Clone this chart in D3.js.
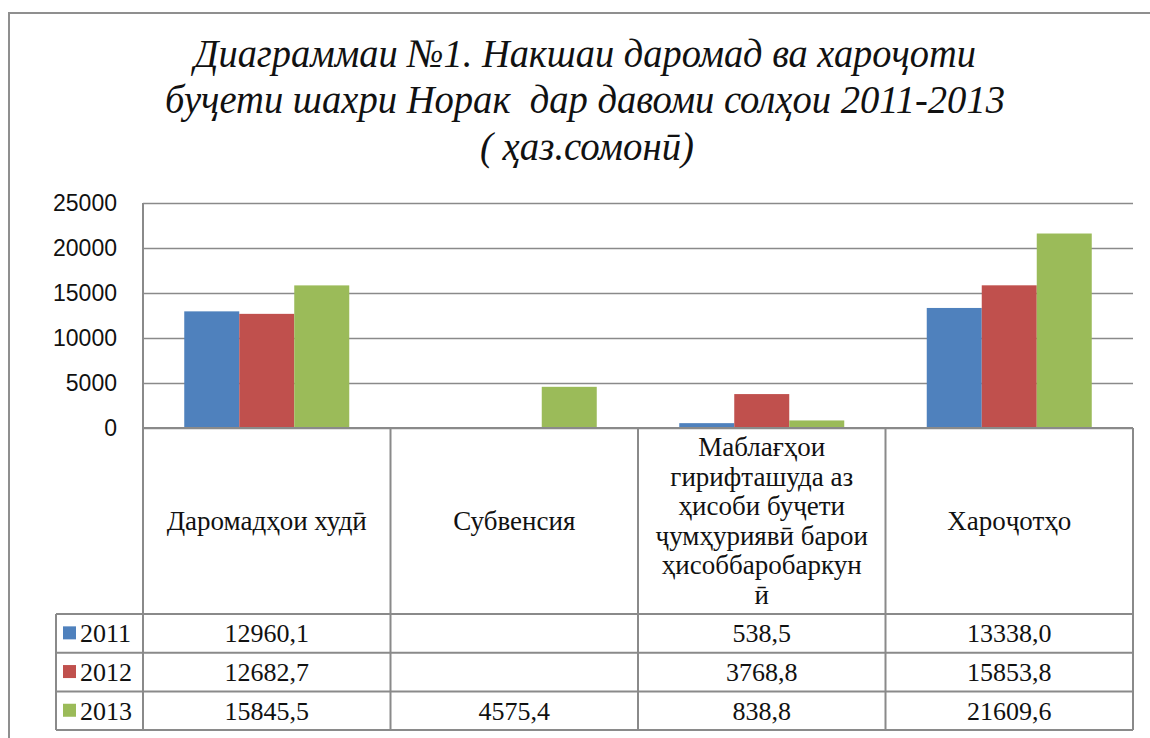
<!DOCTYPE html>
<html><head><meta charset="utf-8">
<script src="https://cdn.jsdelivr.net/npm/d3@7"></script>
<style>
html,body{margin:0;padding:0;background:#fff;}
svg{display:block;}
.serif{font-family:"Liberation Serif","DejaVu Serif","Noto Serif","Times New Roman",Times,serif;}
.sans{font-family:"Liberation Sans",Arial,sans-serif;}
</style></head>
<body>
<svg id="chart" width="1150" height="738"></svg>
<script>
// ---- data ----
const categories = ["Даромадҳои худӣ", "Субвенсия", "Маблағҳои гирифташуда аз ҳисоби буҷети ҷумҳуриявӣ барои ҳисоббаробаркунӣ", "Хароҷотҳо"];
const categoryLines = [
  ["Даромадҳои худӣ"],
  ["Субвенсия"],
  ["Маблағҳои", "гирифташуда аз", "ҳисоби буҷети", "ҷумҳуриявӣ барои", "ҳисоббаробаркун", "ӣ"],
  ["Хароҷотҳо"]
];
const years = ["2011", "2012", "2013"];
const values2011 = [12960.1, null, 538.5, 13338.0];
const values2012 = [12682.7, null, 3768.8, 15853.8];
const values2013 = [15845.5, 4575.4, 838.8, 21609.6];
const seriesColors = ["#4F81BD", "#C0504D", "#9BBB59"];
const yTicks = [0, 5000, 10000, 15000, 20000, 25000];
const titleLines = ["Диаграммаи №1. Накшаи даромад ва хароҷоти", "буҷети шахри Норак  дар давоми солҳои 2011-2013", "( ҳаз.сомонӣ)"];

const series = [values2011, values2012, values2013];

const svg = d3.select("#chart");
const gridColor = "#8a8a8a";

// outer frame (top and left edges)
svg.append("path").attr("d", "M9,738 V13 H1150").attr("fill", "none")
  .attr("stroke", "#8f8f8f").attr("stroke-width", 2);

// title
const titleG = svg.append("g").attr("class", "serif")
  .attr("font-style", "italic").attr("font-size", 41).attr("fill", "#111");
const tl = [{t: titleLines[0], x: 585, y: 67, w: 782}, {t: titleLines[1], x: 585, y: 113, w: 840},
            {t: titleLines[2], x: 587, y: 160, w: 214}];
tl.forEach(d => {
  titleG.append("text").attr("x", d.x).attr("y", d.y).attr("text-anchor", "middle")
    .attr("textLength", d.w).attr("lengthAdjust", "spacingAndGlyphs")
    .attr("xml:space", "preserve").style("white-space", "pre").text(d.t);
});

// scales
const plotL = 143, plotR = 1133, plotT = 203, plotB = 428;
const y = d3.scaleLinear().domain([0, 25000]).range([plotB, plotT]);
const x0 = d3.scaleBand().domain(categories).range([plotL, plotR]).padding(0);
const step = x0.bandwidth();
const x1 = d3.scaleBand().domain(years).range([step * 1.5 / 9, step * 7.5 / 9]).padding(0);

// grid + y axis
const yAxis = d3.axisLeft(y).tickValues(yTicks).tickSize(-(plotR - plotL)).tickPadding(26)
  .tickFormat(d3.format("d"));
const ga = svg.append("g").attr("transform", `translate(${plotL},0)`).call(yAxis);
ga.select(".domain").remove();
ga.selectAll(".tick line").attr("stroke", gridColor).attr("stroke-width", 1.5);
ga.selectAll(".tick text").attr("class", "sans").attr("font-family", null)
  .attr("font-size", 23).attr("fill", "#111");
ga.attr("font-family", null);

// bars
const barData = [];
series.forEach((vals, si) => vals.forEach((v, ci) => {
  if (v != null) barData.push({cat: categories[ci], year: years[si], v, si});
}));
svg.append("g").selectAll("rect").data(barData).join("rect")
  .attr("x", d => x0(d.cat) + x1(d.year))
  .attr("y", d => y(d.v))
  .attr("width", x1.bandwidth())
  .attr("height", d => y(0) - y(d.v))
  .attr("fill", d => seriesColors[d.si]);

// data table
const headB = 614, rowH = 38.7;
const tableB = headB + rowH * 3;
const legL = 56;
const lines = svg.append("g").attr("stroke", gridColor).attr("stroke-width", 2).attr("fill", "none");
lines.append("line").attr("x1", plotL).attr("x2", plotL).attr("y1", plotT).attr("y2", tableB);
lines.append("line").attr("x1", plotL).attr("x2", plotR).attr("y1", plotB).attr("y2", plotB);
categories.forEach((c, i) => {
  const xr = x0(c) + step;
  lines.append("line").attr("x1", xr).attr("x2", xr).attr("y1", plotB).attr("y2", tableB);
});
[0, 1, 2, 3].forEach(i => {
  const yy = headB + rowH * i;
  lines.append("line").attr("x1", legL).attr("x2", plotR).attr("y1", yy).attr("y2", yy);
});
lines.append("line").attr("x1", legL).attr("x2", legL).attr("y1", headB).attr("y2", tableB);

// category labels
const lh = 29.6;
categories.forEach((c, i) => {
  const ls = categoryLines[i];
  const cx = x0(c) + step / 2;
  const cy = (plotB + headB) / 2;
  const y0 = cy - (ls.length - 1) * lh / 2 + 9;
  const t = svg.append("text").attr("class", "serif").attr("font-size", 27)
    .attr("fill", "#111").attr("text-anchor", "middle");
  ls.forEach((l, j) => t.append("tspan").attr("x", cx).attr("y", y0 + j * lh).text(l));
});

// table values
const fmt = v => d3.format(".1f")(v).replace(".", ",");
series.forEach((vals, si) => {
  const ry = headB + rowH * si + rowH / 2 + 9;
  svg.append("rect").attr("x", 63).attr("y", ry - 16).attr("width", 13).attr("height", 13)
    .attr("fill", seriesColors[si]);
  svg.append("text").attr("class", "serif").attr("x", 80).attr("y", ry).attr("font-size", 26)
    .attr("fill", "#111").text(years[si]);
  vals.forEach((v, ci) => {
    if (v == null) return;
    svg.append("text").attr("class", "serif").attr("x", x0(categories[ci]) + step / 2).attr("y", ry)
      .attr("text-anchor", "middle").attr("font-size", 26)
      .attr("fill", "#111").text(fmt(v));
  });
});
</script>
</body></html>
